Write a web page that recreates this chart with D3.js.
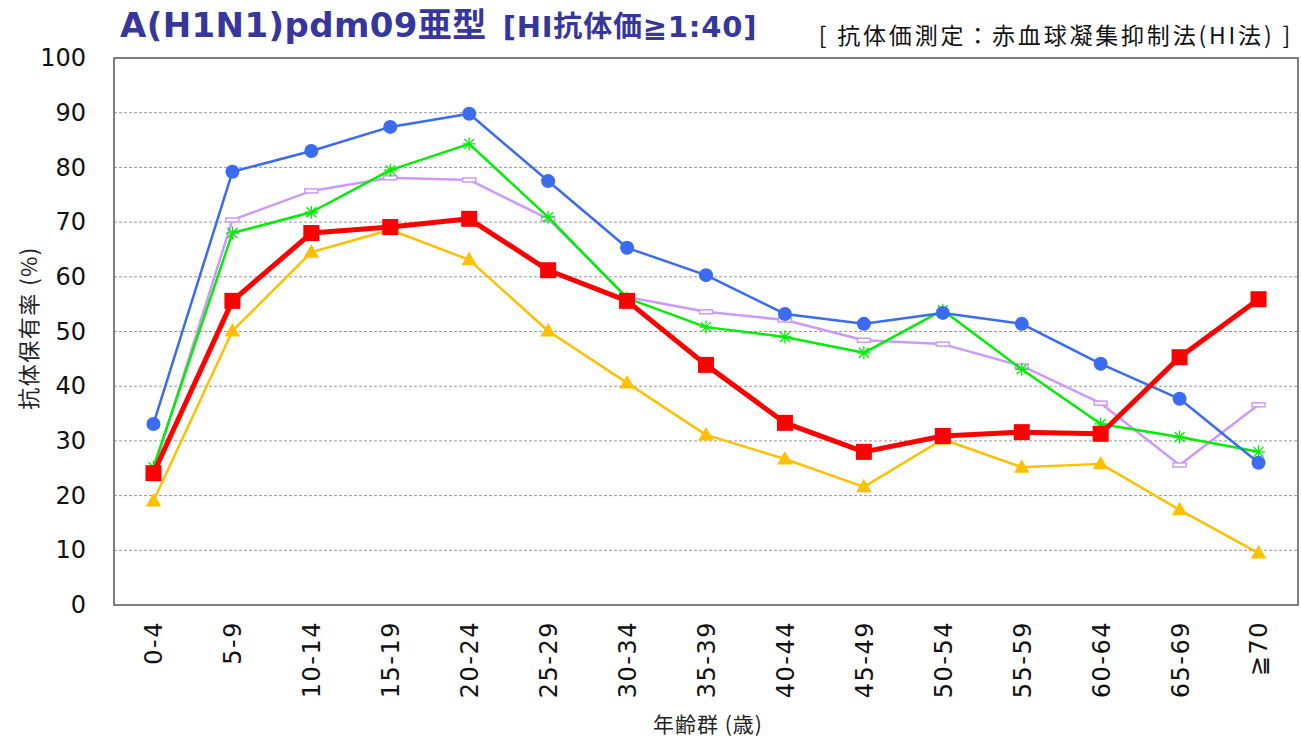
<!DOCTYPE html>
<meta charset="utf-8">
<script src="https://d3js.org/d3.v7.min.js"></script>
<style>
  body { margin: 0; background: #fff; }
  text { font-family: "DejaVu Sans", "Noto Sans CJK JP", sans-serif; }
</style>
<div id="chart"></div>
<script>
// age groups and y ticks
var ageGroups = ["0-4","5-9","10-14","15-19","20-24","25-29","30-34","35-39","40-44","45-49","50-54","55-59","60-64","65-69","≧70"];
var yTicks = [0,10,20,30,40,50,60,70,80,90,100];

// series values (%)
var blueVals   = [33.1,79.2,83.0,87.4,89.8,77.5,65.3,60.3,53.2,51.4,53.4,51.4,44.1,37.7,26.0];
var purpleVals = [24.6,70.4,75.7,78.1,77.7,70.6,56.3,53.6,52.1,48.4,47.7,43.7,36.9,25.6,36.6];
var greenVals  = [25.2,68.0,71.8,79.5,84.3,70.9,56.1,50.8,49.0,46.1,53.9,43.1,33.1,30.7,28.0];
var yellowVals = [19.0,50.1,64.5,68.6,63.1,50.1,40.6,31.1,26.7,21.6,30.3,25.2,25.8,17.4,9.5];
var redVals    = [24.1,55.6,68.0,69.1,70.6,61.2,55.6,43.9,33.3,28.0,30.9,31.6,31.3,45.3,55.9];

var W = 1301, H = 738;
var margin = {top: 58, right: 3, bottom: 133, left: 114};
var width = W - margin.left - margin.right,
    height = H - margin.top - margin.bottom;

var svg = d3.select("#chart").append("svg")
    .attr("width", W).attr("height", H);
var g = svg.append("g")
    .attr("transform", "translate(" + margin.left + "," + margin.top + ")");

var x = d3.scalePoint().domain(ageGroups).range([0, width]).padding(0.5);
var y = d3.scaleLinear().domain([0, 100]).range([height, 0]);

// gridlines
g.selectAll(".grid").data(yTicks.filter(function(d){ return d > 0 && d < 100; }))
  .enter().append("line")
    .attr("x1", 0).attr("x2", width)
    .attr("y1", function(d){ return y(d); }).attr("y2", function(d){ return y(d); })
    .attr("stroke", "#999").attr("stroke-width", 1)
    .attr("stroke-dasharray", "3,2");

// frame
g.append("rect").attr("x", 0).attr("y", 0).attr("width", width).attr("height", height)
  .attr("fill", "none").attr("stroke", "#555").attr("stroke-width", 1.5);

// y axis labels
var yAxis = g.append("g").call(d3.axisLeft(y).tickValues(yTicks).tickSize(0).tickPadding(28));
yAxis.select(".domain").remove();
yAxis.selectAll("text").attr("font-size", 24).attr("fill", "#111")
  .style("font-family", "'DejaVu Sans', sans-serif");

// x axis labels
var xAxis = g.append("g").attr("transform", "translate(0," + height + ")")
  .call(d3.axisBottom(x).tickSize(0));
xAxis.select(".domain").remove();
xAxis.selectAll("text")
  .attr("font-size", 24).attr("fill", "#111")
  .attr("letter-spacing", 1.5)
  .style("font-family", "'DejaVu Sans', sans-serif")
  .attr("text-anchor", "end")
  .attr("dy", "0.35em")
  .attr("transform", "translate(0,6) rotate(-90)")
  .attr("x", -10).attr("y", 0);

// axis titles
svg.append("text")
  .attr("transform", "translate(37,328) rotate(-90)")
  .attr("text-anchor", "middle").attr("font-size", 22).attr("fill", "#222")
  .attr("letter-spacing", 1.5)
  .style("font-family", "'Noto Sans CJK JP', sans-serif")
  .text("抗体保有率 (%)");
svg.append("text")
  .attr("x", 708).attr("y", 732)
  .attr("text-anchor", "middle").attr("font-size", 21).attr("fill", "#222")
  .attr("letter-spacing", 1)
  .style("font-family", "'Noto Sans CJK JP', sans-serif")
  .text("年齢群 (歳)");

// titles
var title = svg.append("text").attr("x", 120).attr("y", 37)
  .attr("fill", "#36369C").attr("font-weight", "bold");
title.append("tspan").attr("font-size", 34).attr("letter-spacing", 0.4).text("A(H1N1)pdm09亜型");
title.append("tspan").attr("font-size", 29).attr("dx", 16).attr("letter-spacing", 0.8).text("[HI抗体価≧1:40]");

svg.append("text").attr("x", 1293).attr("y", 44)
  .attr("text-anchor", "end").attr("font-size", 23).attr("fill", "#111")
  .style("font-family", "'Noto Sans CJK JP', sans-serif")
  .attr("letter-spacing", 2.8)
  .text("[ 抗体価測定：赤血球凝集抑制法(HI法) ]");

var line = d3.line()
  .x(function(d, i){ return x(ageGroups[i]); })
  .y(function(d){ return y(d); });

function drawSeries(vals, color, lw, marker) {
  g.append("path").datum(vals)
    .attr("d", line).attr("fill", "none")
    .attr("stroke", color).attr("stroke-width", lw)
    .attr("stroke-linejoin", "round");
  var m = g.append("g").selectAll("g").data(vals).enter().append("g")
    .attr("transform", function(d, i){ return "translate(" + x(ageGroups[i]) + "," + y(d) + ")"; });
  marker(m, color);
}

function purpleMarker(m, c) {
  m.append("rect").attr("x", -6.5).attr("y", -2).attr("width", 13).attr("height", 4)
    .attr("fill", "#fff").attr("stroke", c).attr("stroke-width", 1.5);
}
function starMarker(m, c) {
  m.append("path").attr("d", "M-6.5,0H6.5M0,-6.5V6.5M-5,-5L5,5M-5,5L5,-5")
    .attr("stroke", c).attr("stroke-width", 1.3).attr("fill", "none");
}
function triMarker(m, c) {
  m.append("path").attr("d", d3.symbol().type(d3.symbolTriangle).size(105))
    .attr("transform", "translate(0,1)")
    .attr("fill", c);
}
function circleMarker(m, c) {
  m.append("circle").attr("r", 7).attr("fill", c);
}
function squareMarker(m, c) {
  m.append("rect").attr("x", -8).attr("y", -8).attr("width", 16).attr("height", 16).attr("fill", c);
}

drawSeries(purpleVals, "#CC99FF", 2.5, purpleMarker);
drawSeries(greenVals, "#00EE00", 2.5, starMarker);
drawSeries(yellowVals, "#FFC000", 2.5, triMarker);
drawSeries(blueVals, "#3A6BF2", 2.5, circleMarker);
drawSeries(redVals, "#FF0000", 5, squareMarker);
</script>
